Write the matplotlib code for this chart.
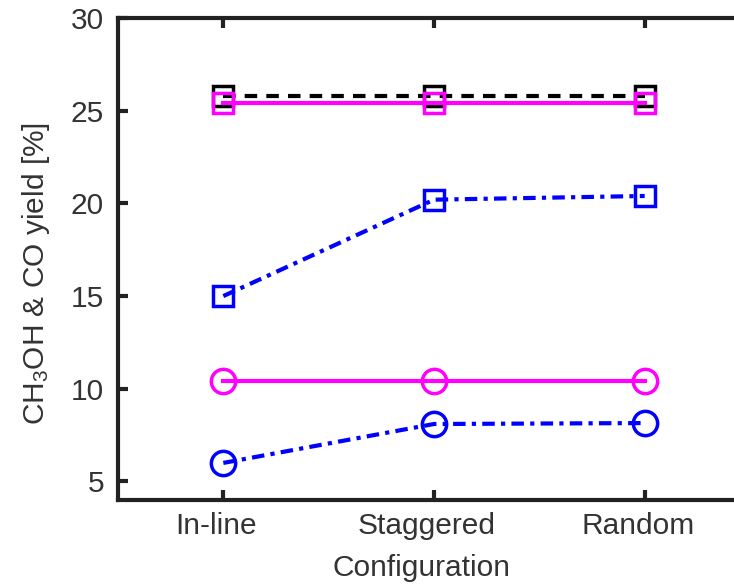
import matplotlib
matplotlib.use("Agg")
import matplotlib.pyplot as plt
import matplotlib.transforms as mtransforms

plt.rcParams['font.family'] = ['Liberation Sans', 'DejaVu Sans']
plt.rcParams['mathtext.fontset'] = 'custom'
plt.rcParams['mathtext.rm'] = 'Liberation Sans'
plt.rcParams['mathtext.it'] = 'Liberation Sans'

categories = ["In-line", "Staggered", "Random"]
black_sq = [25.8, 25.8, 25.8]
magenta_sq = [25.4, 25.4, 25.4]
blue_sq = [15.0, 20.2, 20.4]
magenta_ci = [10.4, 10.4, 10.4]
blue_ci = [6.0, 8.1, 8.15]
yticks = [5, 10, 15, 20, 25, 30]

fig = plt.figure(figsize=(7.34, 5.87), dpi=100)
W, H = 734, 587
ax = fig.add_axes([118 / W, (H - 500) / H, (750 - 118) / W, (500 - 18) / H])

x = [1, 2, 3]
lw = 3.0
fs = 21.5
ax.plot(x, black_sq, color='black', ls=(0, (3, 2.2)), lw=lw, marker='s', ms=14,
        mfc='none', mec='black', mew=2.5)
ax.plot(x, magenta_sq, color='#FF00FF', ls='-', lw=lw, marker='s', ms=14,
        mfc='none', mec='#FF00FF', mew=2.5)
ax.plot(x, blue_sq, color='#0000FF', ls=(0, (3, 1.5, 1, 1.5)), lw=lw, marker='s', ms=14,
        mfc='none', mec='#0000FF', mew=2.5)
ax.plot(x, magenta_ci, color='#FF00FF', ls='-', lw=lw, marker='o', ms=17.5,
        mfc='none', mec='#FF00FF', mew=2.5)
ax.plot(x, blue_ci, color='#0000FF', ls=(0, (3, 1.5, 1, 1.5)), lw=lw, marker='o', ms=17.5,
        mfc='none', mec='#0000FF', mew=2.5)

ax.set_xlim(0.5, 3.5)
ax.set_ylim(4, 30)
ax.set_xticks(x)
ax.set_xticklabels(categories)
ax.set_yticks(yticks)

for s in ax.spines.values():
    s.set_linewidth(3)
    s.set_color('#222222')
ax.tick_params(direction='in', length=7, width=3, labelsize=fs, colors='#222222',
               top=True, right=True, pad=10)
ax.tick_params(axis='x', pad=9)
shift = mtransforms.ScaledTranslation(-7 / 100, 0, fig.dpi_scale_trans)
for lab in ax.get_xticklabels():
    lab.set_color('#333333')
    lab.set_transform(lab.get_transform() + shift)
for lab in ax.get_yticklabels():
    lab.set_color('#333333')

ax.set_xlabel("Configuration", fontsize=fs, color='#333333')
ax.xaxis.set_label_coords(421 / W, (H - 576) / H, transform=fig.transFigure)
ax.xaxis.label.set_va('baseline')
ax.set_ylabel("CH$_3$OH & CO yield [%]", fontsize=21.5, color='#333333')
ax.yaxis.set_label_coords(44 / W, (H - 273) / H, transform=fig.transFigure)
ax.yaxis.label.set_va('baseline')

fig.savefig("out.png", dpi=100)
